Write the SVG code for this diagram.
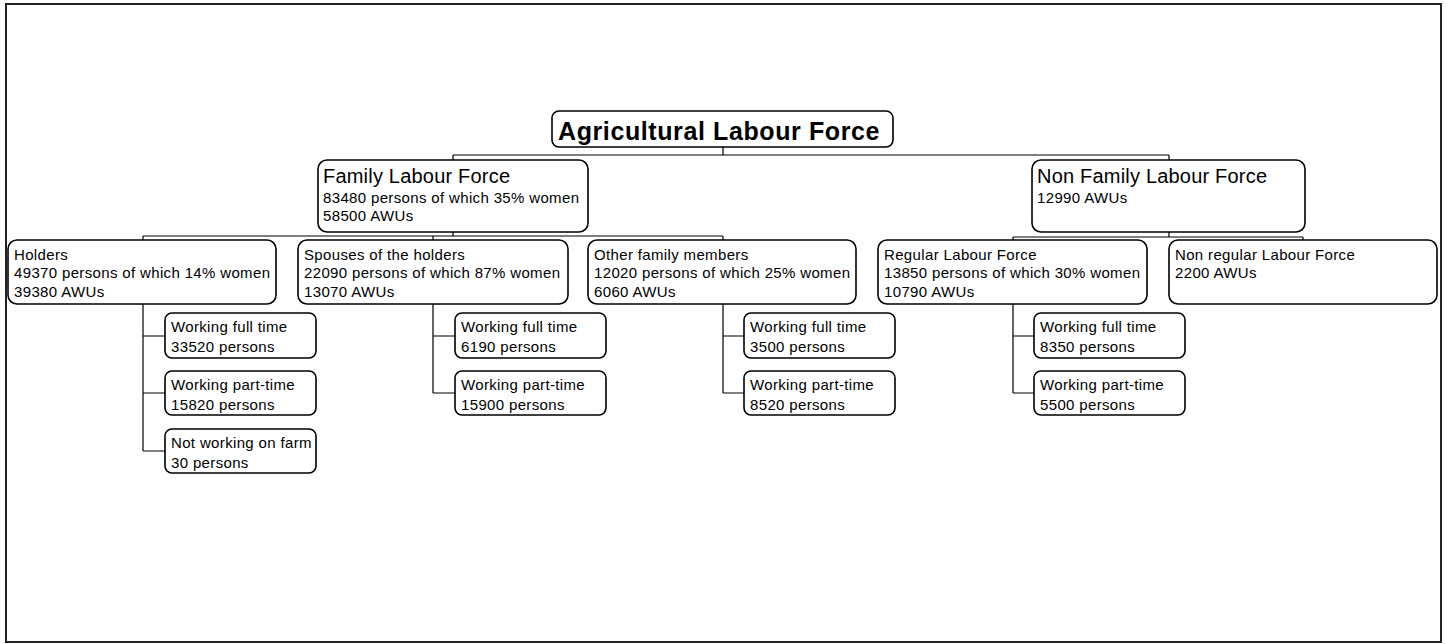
<svg xmlns="http://www.w3.org/2000/svg" width="1446" height="644" viewBox="0 0 1446 644">
<style>
.box{fill:#fff;stroke:#000;stroke-width:1.6}
.t{font-family:"Liberation Sans",Arial,sans-serif;font-size:15px;letter-spacing:0.35px;fill:#000}
.h{font-family:"Liberation Sans",Arial,sans-serif;font-size:20px;letter-spacing:0.2px;fill:#000}
.root{font-family:"Liberation Sans",Arial,sans-serif;font-size:25px;font-weight:bold;letter-spacing:0.6px;fill:#000}
.c{fill:none;stroke:#000;stroke-width:1.2}
</style>
<rect x="6" y="4" width="1435" height="638" fill="#fff" stroke="#222" stroke-width="2"/>
<g id="connectors" class="c">
<path d="M723 147V155M453 155H1169M453 155V160M1169 155V160"/>
<path d="M453 232V236M143 236H723M143 236V240M433 236V240M723 236V240"/>
<path d="M1169 232V237M1013 237H1303M1013 237V240M1303 237V240"/>
<path d="M143 304V451M143 336H165M143 393H165M143 451H165"/>
<path d="M433 304V393M433 336H455M433 393H455"/>
<path d="M723 304V393M723 336H744M723 393H744"/>
<path d="M1013 304V393M1013 336H1034M1013 393H1034"/>
</g>
<g id="root"><rect class="box" x="552" y="111" width="341" height="36" rx="7"/><text class="root" x="558" y="140">Agricultural Labour Force</text></g>
<g id="family"><rect class="box" x="318" y="160" width="270" height="72" rx="9"/><text class="h" x="323" y="183">Family Labour Force</text><text class="t" x="323" y="203">83480 persons of which 35% women</text><text class="t" x="323" y="221">58500 AWUs</text></g>
<g id="nonfamily"><rect class="box" x="1032" y="160" width="273" height="72" rx="9"/><text class="h" x="1037" y="183">Non Family Labour Force</text><text class="t" x="1037" y="203">12990 AWUs</text></g>
<g id="holders"><rect class="box" x="8" y="240" width="268" height="64" rx="9"/><text class="t" x="14" y="260">Holders</text><text class="t" x="14" y="278">49370 persons of which 14% women</text><text class="t" x="14" y="297">39380 AWUs</text></g>
<g id="spouses"><rect class="box" x="298" y="240" width="270" height="64" rx="9"/><text class="t" x="304" y="260">Spouses of the holders</text><text class="t" x="304" y="278">22090 persons of which 87% women</text><text class="t" x="304" y="297">13070 AWUs</text></g>
<g id="other"><rect class="box" x="588" y="240" width="268" height="64" rx="9"/><text class="t" x="594" y="260">Other family members</text><text class="t" x="594" y="278">12020 persons of which 25% women</text><text class="t" x="594" y="297">6060 AWUs</text></g>
<g id="regular"><rect class="box" x="878" y="240" width="269" height="64" rx="9"/><text class="t" x="884" y="260">Regular Labour Force</text><text class="t" x="884" y="278">13850 persons of which 30% women</text><text class="t" x="884" y="297">10790 AWUs</text></g>
<g id="nonregular"><rect class="box" x="1169" y="240" width="268" height="64" rx="9"/><text class="t" x="1175" y="260">Non regular Labour Force</text><text class="t" x="1175" y="278">2200 AWUs</text></g>
<g id="h-full"><rect class="box" x="165" y="313" width="151" height="45" rx="7"/><text class="t" x="171" y="332">Working full time</text><text class="t" x="171" y="352">33520 persons</text></g>
<g id="h-part"><rect class="box" x="165" y="371" width="151" height="44" rx="7"/><text class="t" x="171" y="390">Working part-time</text><text class="t" x="171" y="410">15820 persons</text></g>
<g id="h-not"><rect class="box" x="165" y="429" width="151" height="44" rx="7"/><text class="t" x="171" y="448">Not working on farm</text><text class="t" x="171" y="468">30 persons</text></g>
<g id="s-full"><rect class="box" x="455" y="313" width="151" height="45" rx="7"/><text class="t" x="461" y="332">Working full time</text><text class="t" x="461" y="352">6190 persons</text></g>
<g id="s-part"><rect class="box" x="455" y="371" width="151" height="44" rx="7"/><text class="t" x="461" y="390">Working part-time</text><text class="t" x="461" y="410">15900 persons</text></g>
<g id="o-full"><rect class="box" x="744" y="313" width="151" height="45" rx="7"/><text class="t" x="750" y="332">Working full time</text><text class="t" x="750" y="352">3500 persons</text></g>
<g id="o-part"><rect class="box" x="744" y="371" width="151" height="44" rx="7"/><text class="t" x="750" y="390">Working part-time</text><text class="t" x="750" y="410">8520 persons</text></g>
<g id="r-full"><rect class="box" x="1034" y="313" width="151" height="45" rx="7"/><text class="t" x="1040" y="332">Working full time</text><text class="t" x="1040" y="352">8350 persons</text></g>
<g id="r-part"><rect class="box" x="1034" y="371" width="151" height="44" rx="7"/><text class="t" x="1040" y="390">Working part-time</text><text class="t" x="1040" y="410">5500 persons</text></g>
</svg>
